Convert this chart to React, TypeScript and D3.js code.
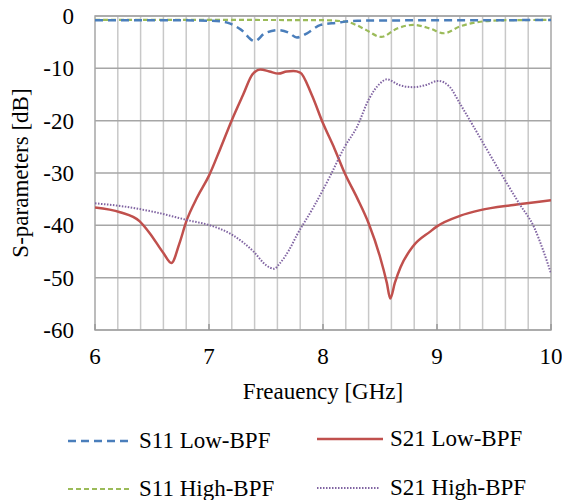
import React, { useEffect, useRef } from "react";
import * as d3 from "d3";

// frequency [GHz], value [dB]
const s11LowF = [6.0, 6.5, 7.0, 7.1, 7.18, 7.28, 7.4, 7.49, 7.61, 7.7, 7.77, 7.86, 7.98, 8.12, 8.3, 8.6, 9.0, 9.5, 10.0];
const s11LowV = [-0.8, -0.8, -0.9, -1.0, -1.4, -2.6, -4.8, -3.3, -2.7, -3.2, -4.1, -3.3, -1.7, -1.3, -0.9, -0.85, -0.8, -0.8, -0.75];

const s21LowF = [6.0, 6.22, 6.39, 6.48, 6.6, 6.67, 6.74, 6.8, 6.9, 7.0, 7.1, 7.2, 7.3, 7.38, 7.45, 7.53, 7.61, 7.68, 7.74, 7.8, 7.9, 8.0, 8.1, 8.19, 8.3, 8.4, 8.5, 8.56, 8.59, 8.63, 8.68, 8.79, 8.94, 9.0, 9.2, 9.38, 9.67, 10.0];
const s21LowV = [-36.6, -37.5, -39.2, -41.5, -45.3, -47.2, -43.5, -39.3, -34.5, -30.5, -25.3, -19.9, -15.0, -11.2, -10.2, -10.6, -11.0, -10.6, -10.5, -10.8, -15.0, -20.5, -25.3, -30.0, -34.8, -39.6, -46.0, -51.0, -54.0, -51.0, -48.0, -44.0, -41.2, -40.2, -38.2, -37.1, -36.1, -35.2];

const s11HighF = [6.0, 7.0, 8.0, 8.21, 8.3, 8.38, 8.51, 8.65, 8.79, 8.94, 9.06, 9.2, 9.38, 9.61, 10.0];
const s11HighV = [-0.75, -0.75, -0.8, -1.1, -1.8, -2.7, -4.0, -2.4, -1.7, -2.4, -3.3, -2.0, -1.1, -0.8, -0.75];

const s21HighF = [6.0, 6.22, 6.51, 6.83, 7.01, 7.21, 7.39, 7.5, 7.57, 7.62, 7.7, 7.77, 7.92, 8.06, 8.19, 8.3, 8.4, 8.5, 8.56, 8.67, 8.79, 8.9, 9.01, 9.11, 9.2, 9.32, 9.44, 9.57, 9.72, 9.85, 9.93, 10.0];
const s21HighV = [-35.8, -36.3, -37.4, -39.1, -40.0, -41.9, -45.0, -47.6, -48.3, -47.3, -44.8, -41.9, -36.4, -30.7, -25.0, -21.1, -16.0, -12.9, -12.1, -13.2, -13.6, -13.2, -12.4, -13.5, -16.7, -21.1, -25.6, -30.4, -35.8, -40.3, -44.7, -49.2];

const xTicks = [6, 7, 8, 9, 10];
const yTicks = [0, -10, -20, -30, -40, -50, -60];

const series = [
  { name: "S11 Low-BPF", f: s11LowF, v: s11LowV, color: "#4a7ebb", width: 2.5, dash: "8,5" },
  { name: "S21 Low-BPF", f: s21LowF, v: s21LowV, color: "#c0504d", width: 2.5, dash: null },
  { name: "S11 High-BPF", f: s11HighF, v: s11HighV, color: "#9bbb59", width: 2.2, dash: "5,3" },
  { name: "S21 High-BPF", f: s21HighF, v: s21HighV, color: "#8064a2", width: 2, dash: "1.5,1.5" },
];

const FONT = "Liberation Serif, DejaVu Serif, Times New Roman, serif";

export default function App() {
  const ref = useRef<SVGSVGElement>(null);

  useEffect(() => {
    const svg = d3.select(ref.current);
    svg.selectAll("*").remove();

    const left = 95, right = 551, top = 16, bottom = 330;
    const x = d3.scaleLinear().domain([6, 10]).range([left, right]);
    const y = d3.scaleLinear().domain([-60, 0]).range([bottom, top]);

    const g = svg.append("g").style("font-family", FONT).style("font-size", "23px");

    // vertical grid every 0.2 GHz
    d3.range(6.2, 10, 0.2).forEach(f => {
      g.append("line")
        .attr("x1", x(f)).attr("x2", x(f))
        .attr("y1", top).attr("y2", bottom)
        .attr("stroke", "#c8c8c8").attr("stroke-width", 1.5);
    });
    // horizontal grid
    yTicks.forEach(t => {
      g.append("line")
        .attr("x1", left).attr("x2", right)
        .attr("y1", y(t)).attr("y2", y(t))
        .attr("stroke", "#a6a6a6").attr("stroke-width", 1.5);
    });
    g.append("rect")
      .attr("x", left).attr("y", top)
      .attr("width", right - left).attr("height", bottom - top)
      .attr("fill", "none").attr("stroke", "#a6a6a6").attr("stroke-width", 1.5);
    // small major ticks at bottom
    xTicks.forEach(t => {
      g.append("line")
        .attr("x1", x(t)).attr("x2", x(t))
        .attr("y1", bottom).attr("y2", bottom - 6)
        .attr("stroke", "#999").attr("stroke-width", 1.5);
    });

    // curves
    const clip = svg.append("clipPath").attr("id", "plotclip");
    clip.append("rect").attr("x", left).attr("y", top - 4).attr("width", right - left).attr("height", bottom - top + 8);

    const line = d3.line<[number, number]>()
      .x(d => x(d[0]))
      .y(d => y(d[1]))
      .curve(d3.curveMonotoneX);

    const order = [1, 3, 2, 0];
    order.forEach(i => {
      const s = series[i];
      const pts: [number, number][] = s.f.map((f, k) => [f, s.v[k]]);
      g.append("path")
        .attr("d", line(pts))
        .attr("fill", "none")
        .attr("stroke", s.color)
        .attr("stroke-width", s.width)
        .attr("stroke-dasharray", s.dash)
        .attr("clip-path", "url(#plotclip)");
    });

    // tick labels
    yTicks.forEach(t => {
      g.append("text")
        .attr("x", 74).attr("y", y(t))
        .attr("dy", "0.35em")
        .attr("text-anchor", "end")
        .attr("fill", "#000")
        .text(t);
    });
    xTicks.forEach(t => {
      g.append("text")
        .attr("x", x(t)).attr("y", 364)
        .attr("text-anchor", "middle")
        .attr("fill", "#000")
        .text(t);
    });

    g.append("text")
      .attr("x", (left + right) / 2).attr("y", 399)
      .attr("text-anchor", "middle")
      .text("Freauency [GHz]");

    g.append("text")
      .attr("transform", `translate(28,${(top + bottom) / 2}) rotate(-90)`)
      .attr("text-anchor", "middle")
      .text("S-parameters [dB]");

    // legend
    const legend = [
      { s: series[0], x1: 68, x2: 128, tx: 139, y: 441 },
      { s: series[1], x1: 317, x2: 383, tx: 390, y: 439 },
      { s: series[2], x1: 68, x2: 130, tx: 139, y: 489 },
      { s: series[3], x1: 317, x2: 379, tx: 390, y: 488 },
    ];
    legend.forEach(l => {
      g.append("line")
        .attr("x1", l.x1).attr("x2", l.x2)
        .attr("y1", l.y).attr("y2", l.y)
        .attr("stroke", l.s.color)
        .attr("stroke-width", l.s.width)
        .attr("stroke-dasharray", l.s.dash);
      g.append("text")
        .attr("x", l.tx).attr("y", l.y + 7)
        .text(l.s.name);
    });
  }, []);

  return (
    <div style={{ position: "absolute", left: 0, top: 0 }}>
      <svg ref={ref} width={562} height={500} style={{ display: "block", background: "#fff" }} />
    </div>
  );
}
